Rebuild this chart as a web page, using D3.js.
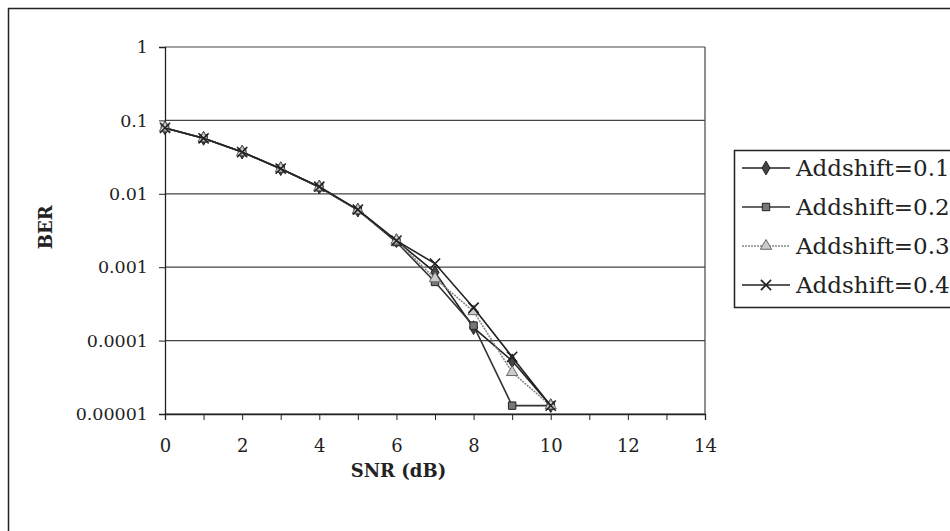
<!DOCTYPE html>
<html>
<head>
<meta charset="utf-8">
<script src="https://cdn.jsdelivr.net/npm/d3@7"></script>
<style>
  body { margin: 0; background: #fff; }
  svg { display: block; font-family: "DejaVu Serif", serif; }
</style>
</head>
<body>
<div id="chart"></div>
<script>
// SNR values (dB)
const snr = [0, 1, 2, 3, 4, 5, 6, 7, 8, 9, 10];
const series_names = ["Addshift=0.1", "Addshift=0.2", "Addshift=0.3", "Addshift=0.4"];
const ber_01 = [0.079, 0.057, 0.037, 0.022, 0.0124, 0.006, 0.0023, 0.00085, 0.00015, 0.000053, 0.000013];
const ber_02 = [0.079, 0.057, 0.037, 0.022, 0.0123, 0.006, 0.0022, 0.00063, 0.00016, 0.000013, 0.000013];
const ber_03 = [0.079, 0.057, 0.037, 0.022, 0.0123, 0.006, 0.0023, 0.0007, 0.00025, 0.000037, 0.000013];
const ber_04 = [0.079, 0.057, 0.037, 0.022, 0.0125, 0.0061, 0.0023, 0.00112, 0.00028, 0.00006, 0.000013];
const y_ticks = [1, 0.1, 0.01, 0.001, 0.0001, 0.00001];
const y_tick_labels = ["1", "0.1", "0.01", "0.001", "0.0001", "0.00001"];
const x_ticks = [0, 2, 4, 6, 8, 10, 12, 14];

const W = 950, H = 531;
const margin = { top: 47, left: 165 };
const width = 540, height = 367;

const svg = d3.select("#chart").append("svg")
  .attr("width", W).attr("height", H);

// outer frame
svg.append("rect")
  .attr("x", 8.5).attr("y", 8.5)
  .attr("width", 960).attr("height", 560)
  .attr("fill", "none").attr("stroke", "#222").attr("stroke-width", 1.5);

const g = svg.append("g").attr("transform", `translate(${margin.left}, ${margin.top})`);

const x = d3.scaleLinear().domain([0, 14]).range([0, width]);
const y = d3.scaleLog().domain([0.00001, 1]).range([height, 0]);

// gridlines
g.append("g")
  .selectAll("line")
  .data(y_ticks)
  .join("line")
  .attr("x1", 0).attr("x2", width)
  .attr("y1", (d) => y(d)).attr("y2", (d) => y(d))
  .attr("stroke", "#444").attr("stroke-width", 1.2);

// right border of plot area
g.append("line")
  .attr("x1", width).attr("x2", width)
  .attr("y1", 0).attr("y2", height)
  .attr("stroke", "#444").attr("stroke-width", 1.2);

// x axis
const xAxis = g.append("g")
  .attr("transform", `translate(0, ${height})`)
  .call(d3.axisBottom(x).tickValues(d3.range(0, 15)).tickSize(6)
    .tickFormat((d) => (x_ticks.includes(d) ? d : "")));
xAxis.select(".domain").attr("stroke", "#222").attr("stroke-width", 1.3);
xAxis.selectAll(".tick line").attr("stroke", "#222");
xAxis.selectAll(".tick text")
  .attr("font-family", "DejaVu Serif").attr("font-size", 18)
  .attr("fill", "#222").attr("dy", "1.6em");

// y axis
const yAxis = g.append("g")
  .call(d3.axisLeft(y).tickValues(y_ticks).tickSize(6)
    .tickFormat((d, i) => y_tick_labels[i]));
yAxis.select(".domain").attr("stroke", "#222").attr("stroke-width", 1.3);
yAxis.selectAll(".tick line").attr("stroke", "#222");
yAxis.selectAll(".tick text")
  .attr("font-family", "DejaVu Serif").attr("font-size", 17.5)
  .attr("fill", "#222").attr("x", -17);

// axis titles
svg.append("text")
  .attr("x", margin.left + x(6) + 2).attr("y", 477)
  .attr("text-anchor", "middle")
  .attr("font-size", 18).attr("font-weight", "bold").attr("fill", "#222")
  .text("SNR (dB)");

svg.append("text")
  .attr("transform", `translate(52, ${margin.top + y(0.001) - 40}) rotate(-90)`)
  .attr("text-anchor", "middle")
  .attr("font-size", 18).attr("font-weight", "bold").attr("fill", "#222")
  .text("BER");

// series
const all_series = [
  { name: series_names[0], values: ber_01, stroke: "#222", dash: null, marker: "diamond", fill: "#444" },
  { name: series_names[1], values: ber_02, stroke: "#333", dash: null, marker: "square", fill: "#777" },
  { name: series_names[2], values: ber_03, stroke: "#888", dash: "2,1", marker: "triangle", fill: "#ccc" },
  { name: series_names[3], values: ber_04, stroke: "#222", dash: null, marker: "cross", fill: "none" },
];

const line = d3.line()
  .x((d) => x(d[0]))
  .y((d) => y(d[1]));

const symbols = {
  diamond: d3.symbol().type(d3.symbolDiamond).size(55),
  square: d3.symbol().type(d3.symbolSquare).size(55),
  triangle: d3.symbol().type(d3.symbolTriangle).size(55),
  cross: d3.symbol().type(d3.symbolX).size(70),
};

const drawMarker = (sel, s) => {
  sel.attr("d", symbols[s.marker]())
    .attr("fill", s.marker === "cross" ? "none" : s.fill)
    .attr("stroke", s.marker === "triangle" ? "#666" : "#222")
    .attr("stroke-width", s.marker === "cross" ? 1.6 : 1);
};

all_series.forEach((s) => {
  const pts = snr.map((v, i) => [v, s.values[i]]);
  g.append("path")
    .datum(pts)
    .attr("fill", "none")
    .attr("stroke", s.stroke)
    .attr("stroke-width", 1.6)
    .attr("stroke-dasharray", s.dash)
    .attr("d", line);
  g.append("g")
    .selectAll("path")
    .data(pts)
    .join("path")
    .attr("transform", (d) => `translate(${x(d[0])}, ${y(d[1])})`)
    .call(drawMarker, s);
});

// legend
const legend = svg.append("g").attr("transform", "translate(734, 150)");
legend.append("rect")
  .attr("x", 0.5).attr("y", 0.5)
  .attr("width", 240).attr("height", 157)
  .attr("fill", "#fff").attr("stroke", "#222").attr("stroke-width", 1.5);

all_series.forEach((s, i) => {
  const row = legend.append("g").attr("transform", `translate(0, ${18 + i * 39})`);
  row.append("line")
    .attr("x1", 8).attr("x2", 56)
    .attr("stroke", s.stroke).attr("stroke-width", 1.6)
    .attr("stroke-dasharray", s.dash);
  row.append("path")
    .attr("transform", "translate(32, 0)")
    .call(drawMarker, s);
  row.append("text")
    .attr("x", 62).attr("y", 0).attr("dy", "0.35em")
    .attr("font-size", 23).attr("fill", "#222")
    .text(s.name);
});
</script>
</body>
</html>
